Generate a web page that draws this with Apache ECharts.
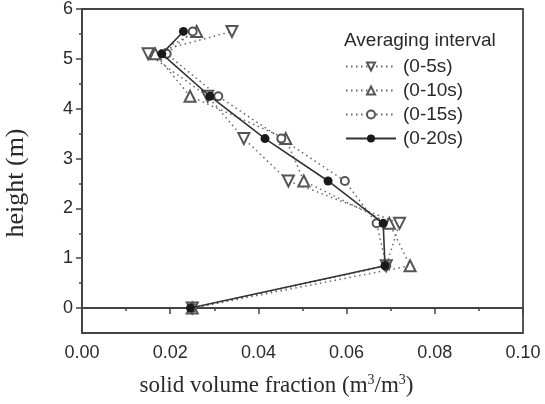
<!DOCTYPE html>
<html>
<head>
<meta charset="utf-8">
<script src="https://cdn.jsdelivr.net/npm/echarts@6/dist/echarts.min.js"></script>
<style>
  html, body { margin: 0; padding: 0; background: #fff; }
  #chart { width: 545px; height: 404px; }
</style>
</head>
<body>
<div id="chart"></div>
<script>
"use strict";
// heights (m) shared by all averaging intervals
var heights = [0, 0.85, 1.7, 2.55, 3.4, 4.25, 5.1, 5.55];
var frac5 = [0.025, 0.069, 0.072, 0.0468, 0.0367, 0.0285, 0.0150, 0.0340];
var frac10 = [0.025, 0.0744, 0.0697, 0.0503, 0.0462, 0.0245, 0.0166, 0.0260];
var frac15 = [0.025, 0.069, 0.0668, 0.0596, 0.0452, 0.0309, 0.0192, 0.0251];
var frac20 = [0.0246, 0.0687, 0.0683, 0.0558, 0.0415, 0.0290, 0.0181, 0.0230];
var seriesNames = ['(0-5s)', '(0-10s)', '(0-15s)', '(0-20s)'];
var yMajor = [0, 1, 2, 3, 4, 5, 6];
var yMinor = [0.5, 1.5, 2.5, 3.5, 4.5, 5.5];

var AXIS = '#444';
var TXT = '#2a2a2a';
var SERIF = 'Liberation Serif, Times New Roman, serif';

function pairs(xs) {
    var out = [];
    for (var i = 0; i < xs.length; i++)
        out.push([xs[i], heights[i]]);
    return out;
}

function dotted(name, xs, symbol, rotate, size) {
    return {
        type: 'line', name: name, data: pairs(xs),
        symbol: symbol, symbolSize: size, symbolRotate: rotate,
        lineStyle: { color: '#666', width: 1.5, type: [1.5, 3.5] },
        itemStyle: { color: '#555', borderWidth: 1.2 },
        z: 2
    };
}

var chart = echarts.init(document.getElementById('chart'));
chart.setOption({
    animation: false,
    textStyle: { fontFamily: 'Liberation Sans, Arial, sans-serif' },
    grid: {
        left: 82, right: 22, top: 9, bottom: 71, outerBoundsMode: 'none',
        show: true, borderColor: AXIS, borderWidth: 1.8
    },
    title: {
        text: 'Averaging interval', left: 339, top: 26,
        textStyle: { fontSize: 19, fontWeight: 'normal', color: TXT }
    },
    legend: {
        orient: 'vertical', left: 340, top: 52,
        itemWidth: 50, itemHeight: 10, itemGap: 5,
        textStyle: { fontSize: 19, color: TXT, padding: [0, 0, 0, 2] },
        data: seriesNames
    },
    xAxis: {
        type: 'value', min: 0, max: 0.1, interval: 0.02,
        axisLine: { lineStyle: { color: AXIS, width: 1.8 } },
        axisTick: { length: 6, lineStyle: { color: AXIS, width: 1.5 } },
        minorTick: { show: true, splitNumber: 2, length: 3, lineStyle: { color: AXIS, width: 1.5 } },
        splitLine: { show: false },
        axisLabel: { fontSize: 18, color: TXT, margin: 11, formatter: function (v) { return v.toFixed(2); } },
        name: '{t|solid volume fraction (m}{s|3}{t|/m}{s|3}{t|)}',
        nameLocation: 'middle', nameGap: 40,
        nameTextStyle: {
            padding: [0, 52, 0, 0],
            rich: {
                t: { fontFamily: SERIF, fontSize: 23, color: TXT },
                s: { fontFamily: SERIF, fontSize: 14, color: TXT, verticalAlign: 'top', padding: [0, 0, 12, 0] }
            }
        }
    },
    yAxis: [{
        type: 'value', min: -0.5, max: 6,
        axisLine: { lineStyle: { color: AXIS, width: 1.8 } },
        axisTick: { length: 6, customValues: yMajor, lineStyle: { color: AXIS, width: 1.5 } },
        splitLine: { show: false },
        axisLabel: { fontSize: 18, color: TXT, margin: 9, customValues: yMajor },
        name: 'height (m)', nameLocation: 'middle', nameGap: 53,
        nameTextStyle: {
            fontFamily: SERIF, fontSize: 26, color: TXT,
            padding: [0, 0, 0, -24]
        }
    }, {
        type: 'value', min: -0.5, max: 6, position: 'left',
        axisLine: { show: false },
        axisTick: { show: true, length: 3, customValues: yMinor, lineStyle: { color: AXIS, width: 1.5 } },
        axisLabel: { show: false },
        splitLine: { show: false }
    }],
    series: [
        dotted(seriesNames[0], frac5, 'emptyTriangle', 180, 11),
        dotted(seriesNames[1], frac10, 'emptyTriangle', 0, 11),
        dotted(seriesNames[2], frac15, 'emptyCircle', 0, 8),
        {
            type: 'line', name: seriesNames[3], data: pairs(frac20),
            symbol: 'circle', symbolSize: 9,
            lineStyle: { color: '#333', width: 1.6 },
            itemStyle: { color: '#1a1a1a' },
            z: 3
        }
    ]
});
</script>
</body>
</html>
